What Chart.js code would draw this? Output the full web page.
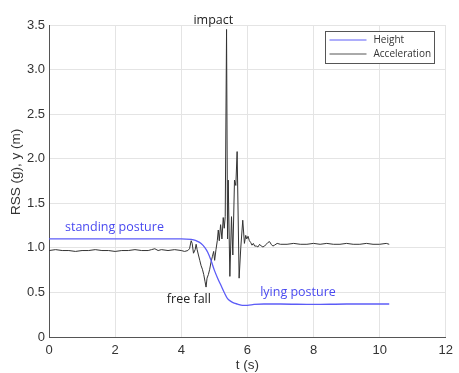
<!DOCTYPE html>
<html>
<head>
    <title>Fall detection: height and acceleration</title>
    <script src="https://cdn.jsdelivr.net/npm/chart.js"></script>
    <style>
        body { margin: 0; background: #fff; }
        canvas { display: block; }
    </style>
</head>
<body>
    <canvas id="fallChart" width="459" height="373"></canvas>
    <script>
        // Height (blue)
        const heightT = [0, 1, 2, 3, 4, 4.3, 4.45, 4.6, 4.72, 4.8, 4.9, 5.0, 5.1, 5.2, 5.3, 5.4, 5.5, 5.6, 5.7, 5.85, 6.0, 6.2, 6.5, 7, 8, 9, 10, 10.29];
        const heightY = [1.1, 1.1, 1.1, 1.1, 1.1, 1.095, 1.08, 1.05, 1.0, 0.95, 0.86, 0.75, 0.66, 0.58, 0.5, 0.43, 0.4, 0.38, 0.37, 0.355, 0.355, 0.365, 0.37, 0.37, 0.365, 0.37, 0.37, 0.37];

        // Acceleration RSS (black)
        const accT = [0, 0.2, 0.4, 0.6, 0.8, 1.0, 1.2, 1.4, 1.6, 1.8, 2.0, 2.2, 2.4, 2.6, 2.8, 3.0, 3.1, 3.2, 3.3, 3.4, 3.6, 3.8, 4.0, 4.1, 4.2,
            4.25, 4.3, 4.33, 4.37, 4.42, 4.45, 4.48, 4.52, 4.56, 4.6, 4.64, 4.68, 4.72, 4.75, 4.78, 4.82, 4.86, 4.9, 4.94, 4.98, 5.01, 5.05,
            5.09, 5.12, 5.15, 5.19, 5.23, 5.27, 5.3, 5.33, 5.37, 5.4, 5.42, 5.47, 5.52, 5.56, 5.61, 5.65, 5.69, 5.75, 5.8, 5.86, 5.91, 5.95,
            5.98, 6.02, 6.06, 6.1, 6.14, 6.18, 6.22, 6.27, 6.32, 6.37, 6.42, 6.47, 6.52, 6.57, 6.62, 6.67, 6.72, 6.77, 6.82, 6.9, 7.0,
            7.2, 7.4, 7.6, 7.8, 8.0, 8.2, 8.4, 8.6, 8.8, 9.0, 9.2, 9.4, 9.6, 9.8, 10.0, 10.2, 10.29];
        const accY = [0.97, 0.98, 0.97, 0.97, 0.96, 0.97, 0.97, 0.98, 0.97, 0.97, 0.96, 0.97, 0.97, 0.98, 0.97, 0.97, 0.98, 0.99, 0.97, 0.98, 0.97, 0.98, 0.97, 0.96, 0.97,
            0.99, 1.08, 1.05, 0.94, 0.98, 1.04, 0.98, 0.92, 0.86, 0.8, 0.76, 0.7, 0.62, 0.56, 0.66, 0.7, 0.76, 0.84, 0.9, 0.96, 0.86, 0.98,
            1.08, 1.2, 1.08, 1.26, 1.1, 1.34, 1.22, 1.35, 3.45, 1.1, 1.76, 0.68, 1.35, 0.92, 1.76, 1.7, 2.08, 0.66, 1.0, 1.31, 1.05, 1.14,
            1.1, 1.13, 1.08, 1.06, 1.03, 1.05, 1.02, 1.02, 1.01, 1.04, 1.02, 1.01, 1.02, 1.04, 1.06, 1.07, 1.04, 1.02, 1.03, 1.05, 1.04,
            1.04, 1.05, 1.04, 1.04, 1.05, 1.04, 1.05, 1.04, 1.04, 1.05, 1.04, 1.04, 1.05, 1.04, 1.04, 1.05, 1.04];

        const xTicks = { min: 0, max: 12, step: 2 };
        const yTicks = { min: 0, max: 3.5, step: 0.5 };

        // text notes, placed in data units
        const notes = [
            { text: "impact", x: 4.97, y: 3.55, color: "#222" },
            { text: "standing posture", x: 1.98, y: 1.225, color: "#4a4af0" },
            { text: "free fall", x: 4.23, y: 0.426, color: "#222" },
            { text: "lying posture", x: 7.53, y: 0.5, color: "#4a4af0" }
        ];

        const blue = "#5c5cf7";
        const black = "#333333";
        const tickFont = { family: "'Liberation Sans', Arial, sans-serif", size: 13 };

        const notesPlugin = {
            id: "notes",
            afterDraw(chart) {
                const ctx = chart.ctx;
                const xs = chart.scales.x, ys = chart.scales.y;
                const area = chart.chartArea;
                ctx.save();

                ctx.font = "12.5px 'Open Sans', sans-serif";
                ctx.textAlign = "center";
                ctx.textBaseline = "middle";
                for (const n of notes) {
                    ctx.fillStyle = n.color;
                    ctx.fillText(n.text, xs.getPixelForValue(n.x), ys.getPixelForValue(n.y));
                }

                // axis titles
                ctx.fillStyle = "#333";
                ctx.font = "13.5px 'Liberation Sans', Arial, sans-serif";
                ctx.fillText("t (s)", (area.left + area.right) / 2, 365);
                ctx.translate(16, 172);
                ctx.rotate(-Math.PI / 2);
                ctx.fillText("RSS (g), y (m)", 0, 0);
                ctx.setTransform(1, 0, 0, 1, 0, 0);

                // legend box in the top right corner
                const bx = Math.round(area.right - 121) + 0.5, by = Math.round(area.top + 6) + 0.5;
                const bw = 109, bh = 32;
                ctx.fillStyle = "#fff";
                ctx.fillRect(bx, by, bw, bh);
                ctx.strokeStyle = "#555";
                ctx.lineWidth = 1;
                ctx.strokeRect(bx, by, bw, bh);
                const items = [
                    { label: "Height", color: blue, dy: 8.5 },
                    { label: "Acceleration", color: "#555", dy: 22.5 }
                ];
                ctx.font = "10px 'Open Sans', sans-serif";
                ctx.textAlign = "left";
                for (const it of items) {
                    ctx.strokeStyle = it.color;
                    ctx.beginPath();
                    ctx.moveTo(bx + 4, by + it.dy);
                    ctx.lineTo(bx + 41, by + it.dy);
                    ctx.stroke();
                    ctx.fillStyle = "#333";
                    ctx.fillText(it.label, bx + 48, by + it.dy);
                }
                ctx.restore();
            }
        };

        const ctx = document.getElementById("fallChart").getContext("2d");
        new Chart(ctx, {
            type: "line",
            data: {
                datasets: [
                    {
                        label: "Height",
                        data: heightT.map((t, i) => ({ x: t, y: heightY[i] })),
                        borderColor: blue,
                        borderWidth: 1.3,
                        pointRadius: 0,
                        cubicInterpolationMode: "monotone",
                        fill: false
                    },
                    {
                        label: "Acceleration",
                        data: accT.map((t, i) => ({ x: t, y: accY[i] })),
                        borderColor: black,
                        borderWidth: 1,
                        pointRadius: 0,
                        tension: 0,
                        fill: false
                    }
                ]
            },
            options: {
                responsive: false,
                animation: false,
                layout: { padding: { left: 0, right: 6, top: 25, bottom: 0 } },
                plugins: { legend: { display: false }, tooltip: { enabled: false } },
                scales: {
                    x: {
                        type: "linear",
                        min: xTicks.min,
                        max: xTicks.max,
                        ticks: { stepSize: xTicks.step, color: "#333", font: tickFont, padding: 6, maxRotation: 0 },
                        grid: { color: "#e4e4e4", drawTicks: false },
                        border: { display: true, color: "#555" },
                        afterFit: s => { s.height = 36; }
                    },
                    y: {
                        min: yTicks.min,
                        max: yTicks.max,
                        ticks: { stepSize: yTicks.step, color: "#333", font: tickFont, padding: 4 },
                        grid: { color: "#e4e4e4", drawTicks: false },
                        border: { display: true, color: "#555" },
                        afterFit: s => { s.width = 49; }
                    }
                }
            },
            plugins: [notesPlugin]
        });
    </script>
</body>
</html>
